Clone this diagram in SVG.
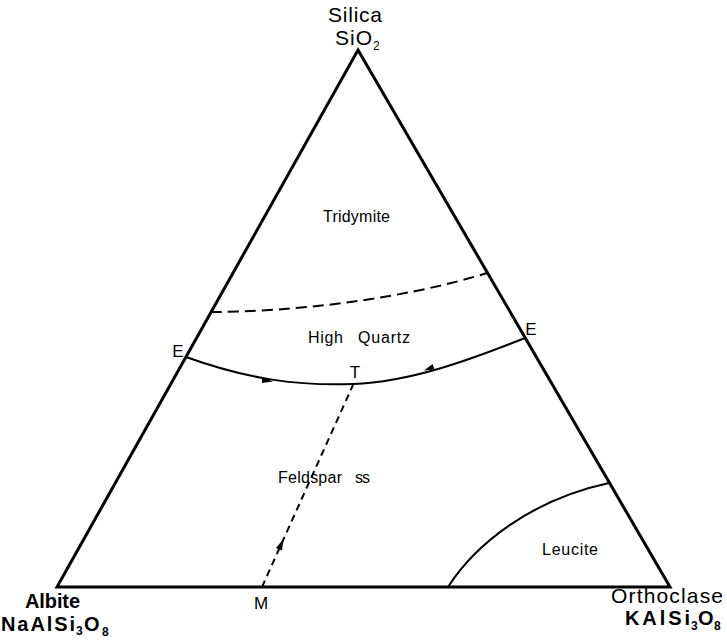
<svg xmlns="http://www.w3.org/2000/svg" width="727" height="640" viewBox="0 0 727 640">
<style>
.edge{fill:none;stroke:#000;stroke-width:3;stroke-linejoin:miter}
.bd{fill:none;stroke:#000;stroke-width:2}
.ah{fill:#000;stroke:none}
.lbl{font-family:"Liberation Sans",Arial,sans-serif;fill:#000}
.big{font-size:20px}
.rg{font-size:16px}
.pt{font-size:17px}
.sub{font-size:12px}
.b{font-weight:bold}
</style>
<rect width="727" height="640" fill="#fff"/>
<g id="triangle">
<path class="edge" d="M358,50 L670,587 L57,587 Z"/>
</g>
<g id="connectors">
<path class="bd" stroke-dasharray="11,6" d="M211,312 C290,312 400,300 487,273"/>
<path class="bd" d="M186,357 C250,380 300,386 353,384 C410,382 470,360 525,338"/>
<polygon class="ah" points="273,381.5 262,377 262,383"/>
<polygon class="ah" points="424,370.5 434.5,369.5 432.5,364"/>
<path class="bd" stroke-dasharray="7,5" d="M262,587 L353,385"/>
<polygon class="ah" points="283.5,539 276,548 282,550.5"/>
<path class="bd" d="M448,587 C475,545 530,500 609,483"/>
</g>
<g id="silica">
<text class="lbl" font-size="21" x="328" y="22" textLength="54">Silica</text>
<text class="lbl" font-size="21" x="335" y="45" textLength="37">SiO</text>
<text class="lbl sub" x="373" y="50">2</text>
</g>
<g id="albite">
<text class="lbl big b" x="25" y="608" textLength="55">Albite</text>
<text class="lbl big b" x="1" y="631" textLength="74">NaAlSi</text>
<text class="lbl sub b" x="76" y="635">3</text>
<text class="lbl big b" x="84" y="631" textLength="16">O</text>
<text class="lbl sub b" x="102" y="636">8</text>
</g>
<g id="orthoclase">
<text class="lbl" font-size="21" x="611" y="603" textLength="112">Orthoclase</text>
<text class="lbl big b" x="625" y="625" textLength="65">KAlSi</text>
<text class="lbl sub b" x="691" y="630">3</text>
<text class="lbl big b" x="698" y="625" textLength="15">O</text>
<text class="lbl sub b" x="714" y="630">8</text>
</g>
<g id="tridymite"><text class="lbl rg" x="323" y="222" textLength="67">Tridymite</text></g>
<g id="highquartz">
<text class="lbl rg" x="308" y="343" textLength="35">High</text>
<text class="lbl rg" x="358" y="343" textLength="52">Quartz</text>
</g>
<g id="feldspar">
<text class="lbl rg" x="278" y="483" textLength="64">Feldspar</text>
<text class="lbl rg" x="355" y="483" textLength="15">ss</text>
</g>
<g id="leucite"><text class="lbl rg" x="542" y="555" textLength="56">Leucite</text></g>
<g id="E1"><text class="lbl pt" x="178" y="357" text-anchor="middle">E</text></g>
<g id="E2"><text class="lbl pt" x="531" y="335" text-anchor="middle">E</text></g>
<g id="T"><text class="lbl pt" x="355" y="378" text-anchor="middle">T</text></g>
<g id="M"><text class="lbl pt" x="261" y="609" text-anchor="middle">M</text></g>
</svg>
